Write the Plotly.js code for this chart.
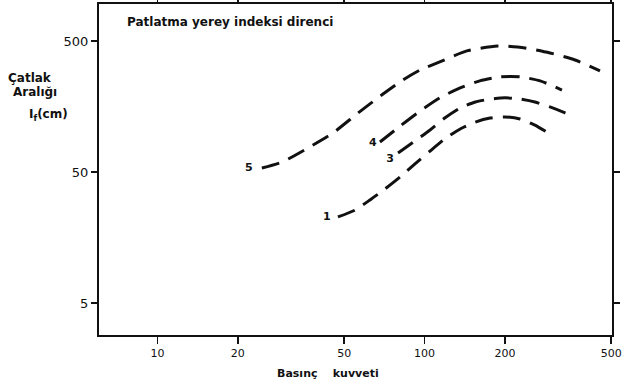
<!DOCTYPE html>
<html>
<head>
<meta charset="utf-8">
<script src="https://cdn.plot.ly/plotly-3.0.1.min.js"></script>
<style>html,body{margin:0;padding:0;background:#fff;}#chart{width:626px;height:390px;}</style>
</head>
<body>
<div id="chart"></div>
<script>
// Curve data (Basınç kuvveti vs Çatlak aralığı, log-log)
var x5 = [24.6, 29.3, 36.6, 45.4, 56.4, 69.3, 83.1, 96.2, 114, 144, 188, 238, 295, 366, 454];
var y5 = [53.6, 59.6, 76.2, 99.2, 141, 194, 252, 300, 346, 420, 458, 442, 405, 358, 295];

var x4 = [68.1, 81.0, 96.2, 114, 136, 161, 192, 228, 271, 327];
var y4 = [84.7, 112, 146, 184, 219, 248, 266, 266, 248, 211];

var x3 = [79.6, 92.1, 104.9, 119, 136, 155, 176, 200, 228, 259, 295, 336, 360];
var y3 = [69.8, 86.2, 104.6, 129, 154, 171, 180, 184, 180, 171, 157, 141, 132];

var x1 = [47.4, 54.9, 62.5, 71.1, 81.0, 92.1, 104.9, 119, 136, 155, 176, 200, 228, 259, 295];
var y1 = [22.7, 25.6, 30.6, 37.1, 45.8, 57.6, 72.3, 89.3, 106.5, 120, 129, 131.5, 127, 114, 97.5];

var labelText = ["5", "4", "3", "1"];
var labelX = [22.0, 64.1, 74.3, 43.1];
var labelY = [53.6, 83.3, 62.8, 22.7];

var xTicks = [10, 20, 50, 100, 200, 500];
var xTickText = ["10", "20", "50", "100", "200", "500"];
var yTicks = [5, 50, 500];
var yTickText = ["5", "50", "500"];

var chartTitle = "Patlatma yerey indeksi direnci";
var xTitle = "Basınç\u00a0\u00a0\u00a0\u00a0kuvveti";
var yTitleLines = ["Çatlak", "Aralığı", "I<sub>f</sub>(cm)"];

var FONT = "DejaVu Sans, sans-serif";
var INK = "#111";
var lineStyle = {color: INK, width: 3, dash: "18px,10px", shape: "spline", smoothing: 0.6};

function curve(x, y) {
  return {x: x, y: y, type: "scatter", mode: "lines", line: lineStyle, hoverinfo: "skip", showlegend: false};
}

var traces = [
  curve(x5, y5), curve(x4, y4), curve(x3, y3), curve(x1, y1),
  {x: labelX, y: labelY, text: labelText.map(function (t) { return "<b>" + t + "</b>"; }),
   type: "scatter", mode: "text",
   textfont: {family: FONT, size: 11, color: INK}, showlegend: false, hoverinfo: "skip"}
];

var annotations = [
  {text: "<b>" + chartTitle + "</b>", xref: "paper", yref: "paper", x: 0.05, y: 0.945,
   xanchor: "left", yanchor: "middle", showarrow: false, font: {family: FONT, size: 12, color: INK}},
  {text: "<b>" + xTitle + "</b>", xref: "paper", yref: "paper", x: 0.447, y: -0.117,
   xanchor: "center", yanchor: "middle", showarrow: false, font: {family: FONT, size: 11, color: INK}},
  {text: "<b>" + yTitleLines[0] + "</b>", xref: "paper", yref: "paper", x: -0.181, y: 0.776,
   xanchor: "left", yanchor: "middle", showarrow: false, font: {family: FONT, size: 12, color: INK}},
  {text: "<b>" + yTitleLines[1] + "</b>", xref: "paper", yref: "paper", x: -0.171, y: 0.733,
   xanchor: "left", yanchor: "middle", showarrow: false, font: {family: FONT, size: 12, color: INK}},
  {text: "<b>" + yTitleLines[2] + "</b>", xref: "paper", yref: "paper", x: -0.14, y: 0.664,
   xanchor: "left", yanchor: "middle", showarrow: false, font: {family: FONT, size: 12, color: INK}}
];

var layout = {
  width: 626, height: 390,
  margin: {l: 99, r: 14, t: 4, b: 55, pad: 0},
  paper_bgcolor: "#fff", plot_bgcolor: "#fff",
  showlegend: false,
  xaxis: {
    type: "log", range: [0.781, 2.702], tickvals: xTicks, ticktext: xTickText,
    showgrid: false, zeroline: false, showline: true, linecolor: INK, linewidth: 2,
    mirror: "ticks", ticks: "outside", ticklen: 7, tickwidth: 1.5, tickcolor: INK,
    tickfont: {family: FONT, size: 11, color: INK}
  },
  yaxis: {
    type: "log", range: [0.455, 2.981], tickvals: yTicks, ticktext: yTickText,
    showgrid: false, zeroline: false, showline: true, linecolor: INK, linewidth: 2,
    mirror: "ticks", ticks: "outside", ticklen: 6, tickwidth: 1.5, tickcolor: INK,
    tickfont: {family: FONT, size: 13, color: INK}
  },
  annotations: annotations
};

Plotly.newPlot("chart", traces, layout, {staticPlot: true, displayModeBar: false});
</script>
</body>
</html>
